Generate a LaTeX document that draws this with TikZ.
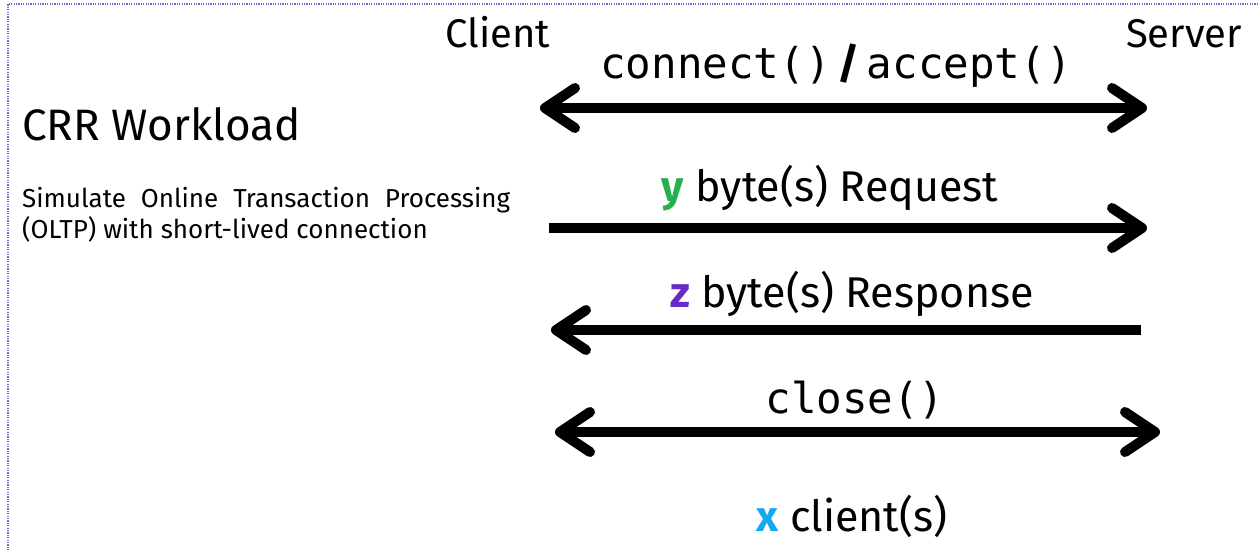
\documentclass[tikz,border=0pt]{standalone}
\usepackage{fontspec}
\setmainfont{Fira Sans}
\setmonofont{DejaVu Sans Mono}
\usetikzlibrary{arrows.meta}
\definecolor{framepurple}{HTML}{8A5CC8}
\definecolor{ygreen}{HTML}{24B04C}
\definecolor{zpurple}{HTML}{6929C4}
\definecolor{xcyan}{HTML}{14A8F0}
\tikzset{
  big/.style={font=\fontsize{40}{48}\selectfont, inner sep=0pt},
  label/.style={font=\fontsize{43}{50}\selectfont, inner sep=0pt},
  bigmono/.style={font=\fontsize{42.5}{50}\selectfont\ttfamily, inner sep=0pt},
  small/.style={font=\fontsize{26}{31}\selectfont, inner sep=0pt},
  msg/.style={line width=10pt, >={Straight Barb[length=30pt,width=40pt,round]}},
  frameline/.style={draw=framepurple, dash pattern=on 1.2pt off 1.2pt, line width=1.5pt}
}
\begin{document}
\begin{tikzpicture}[x=1pt,y=-1pt]
\useasboundingbox (0,0) rectangle (1259,550);
\draw[frameline] (8,560) -- (8,4) -- (1270,4);

\node[big, anchor=base] (client) at (498,47) {Client};
\node[big, anchor=base] (server) at (1184,47) {Server};
\node[font=\fontsize{44}{52}\selectfont, inner sep=0pt, anchor=base west] (title) at (22,140) {CRR Workload};
\node[small, anchor=base west] (desc1) at (22,207) {\makebox[488pt][s]{Simulate Online Transaction Processing}};
\node[small, anchor=base west] (desc2) at (22,238) {(OLTP) with short-lived connection};

\node[bigmono, anchor=base] (conn) at (836,78) {connect()\,{\rmfamily\bfseries/}\,accept()};
\node[label, anchor=base] (req) at (830,201) {{\bfseries\color{ygreen}y} byte(s) Request};
\node[label, anchor=base] (resp) at (852,307) {{\bfseries\color{zpurple}z} byte(s) Response};
\node[bigmono, anchor=base] (close) at (855,413) {close()};
\node[label, anchor=base] (clients) at (852,531) {{\bfseries\color{xcyan}x} client(s)};

\coordinate (c1) at (540,108);  \coordinate (s1) at (1147,108);
\coordinate (c2) at (549,228);  \coordinate (s2) at (1147,228);
\coordinate (c3) at (551,330);  \coordinate (s3) at (1141,330);
\coordinate (c4) at (555,432);  \coordinate (s4) at (1160,432);

\draw[msg,<->] (c1) -- (s1);
\draw[msg,->] (c2) -- (s2);
\draw[msg,->] (s3) -- (c3);
\draw[msg,<->] (c4) -- (s4);
\end{tikzpicture}
\end{document}
